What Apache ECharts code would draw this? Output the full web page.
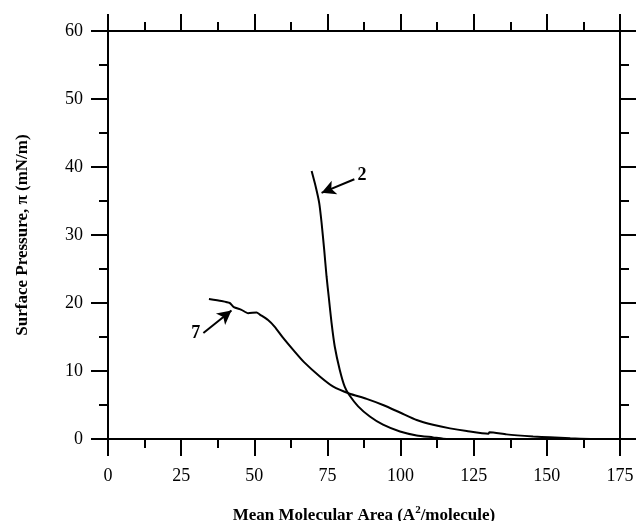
<!DOCTYPE html>
<html>
<head>
<meta charset="utf-8">
<script src="https://cdn.jsdelivr.net/npm/echarts@6/dist/echarts.min.js"></script>
<style>
html, body { margin: 0; padding: 0; background: #fff; }
#chart { width: 636px; height: 521px; }
</style>
</head>
<body>
<div id="chart"></div>
<script>
// isotherm 7 (area, pressure)
const curve7 = [
    [34.5, 20.6], [38.8, 20.3], [41.6, 20.0], [43.0, 19.4], [45.6, 19.0],
    [47.9, 18.5], [50.8, 18.6], [51.9, 18.3], [54.7, 17.5], [57.0, 16.5],
    [59.8, 14.9], [63.3, 13.1], [67.0, 11.3], [72.4, 9.2], [77.0, 7.7],
    [82.4, 6.7], [88.4, 5.9], [94.0, 5.0], [99.8, 3.9], [105.5, 2.8],
    [111.1, 2.1], [116.9, 1.56], [122.6, 1.17], [130.0, 0.78], [130.4, 1.0],
    [136.2, 0.68], [145.3, 0.38], [151.0, 0.25], [158.0, 0.1], [165.0, 0.0]
];

// isotherm 2
const curve2 = [
    [69.6, 39.4], [71.0, 37.1], [72.2, 34.7], [73.0, 31.8], [73.9, 27.8],
    [74.7, 23.9], [75.5, 20.7], [76.4, 17.1], [77.5, 13.6], [79.2, 10.2],
    [80.9, 7.7], [82.4, 6.5], [85.5, 4.8], [89.5, 3.3], [94.0, 2.1],
    [99.8, 1.1], [105.5, 0.53], [111.1, 0.24], [114.5, 0.05], [118.0, 0.0]
];

// trace lying on the baseline near zero area
const baseline = [[0, 0], [9, 0]];

// labels and arrows: label position, arrow tail, arrow tip
const label2 = { text: '2', pos: [86.8, 38.8], tail: [84.2, 38.2], tip: [73.0, 36.2] };
const label7 = { text: '7', pos: [30.0, 15.6], tail: [32.6, 15.6], tip: [42.2, 18.9] };

const xTicks = { min: 0, max: 175, interval: 25 };
const yTicks = { min: 0, max: 60, interval: 10 };

const font = 'Liberation Serif, Times New Roman, serif';
const black = '#000';

const myChart = echarts.init(document.getElementById('chart'));

// fresh objects for every axis (frame + ticks on all four sides)
const makeAxis = (extra) => Object.assign({
    type: 'value',
    axisLine: { show: true, onZero: false, lineStyle: { color: black, width: 2 } },
    axisTick: { show: true, length: 17, lineStyle: { color: black, width: 2 } },
    minorTick: { show: true, splitNumber: 2, length: 9, lineStyle: { color: black, width: 2 } },
    splitLine: { show: false }
}, extra);

const arrowLine = (a) => ({
    type: 'line',
    data: [],
    silent: true,
    markLine: {
        symbol: ['none', 'arrow'],
        symbolSize: [11, 14],
        lineStyle: { color: black, width: 2, type: 'solid' },
        label: { show: false },
        data: [[{ coord: a.tail }, { coord: a.tip }]]
    },
    markPoint: {
        symbol: 'circle',
        symbolSize: 1,
        itemStyle: { color: 'transparent' },
        label: {
            show: true,
            position: 'inside',
            formatter: a.text,
            color: black,
            fontFamily: font,
            fontWeight: 'bold',
            fontSize: 18
        },
        data: [{ coord: a.pos }]
    }
});

const options = {
    animation: false,
    grid: {
        left: 108, right: 16, top: 31, bottom: 82,
        outerBoundsMode: 'none', containLabel: false
    },
    xAxis: [
        makeAxis({
            position: 'bottom',
            min: xTicks.min, max: xTicks.max, interval: xTicks.interval,
            name: 'Mean Molecular Area (A{sup|2}/molecule)',
            nameLocation: 'middle',
            nameGap: 66,
            nameTextStyle: {
                fontFamily: font, fontWeight: 'bold', fontSize: 17, color: black,
                rich: { sup: { fontFamily: font, fontWeight: 'bold', fontSize: 11, verticalAlign: 'top', padding: [0, 0, 10, 0] } }
            },
            axisLabel: { margin: 28, fontFamily: font, fontSize: 18, color: black }
        }),
        makeAxis({
            position: 'top',
            min: xTicks.min, max: xTicks.max, interval: xTicks.interval,
            axisLabel: { show: false }
        })
    ],
    yAxis: [
        makeAxis({
            position: 'left',
            min: yTicks.min, max: yTicks.max, interval: yTicks.interval,
            name: 'Surface Pressure, π (mN/m)',
            nameLocation: 'middle',
            nameGap: 77,
            nameTextStyle: { fontFamily: font, fontWeight: 'bold', fontSize: 17, color: black },
            axisLabel: { margin: 25, fontFamily: font, fontSize: 18, color: black }
        }),
        makeAxis({
            position: 'right',
            min: yTicks.min, max: yTicks.max, interval: yTicks.interval,
            axisLabel: { show: false }
        })
    ],
    series: [
        {
            type: 'line', data: curve7, showSymbol: false, smooth: 0.2,
            lineStyle: { color: black, width: 2 }
        },
        {
            type: 'line', data: curve2, showSymbol: false, smooth: 0.2,
            lineStyle: { color: black, width: 2 }
        },
        {
            type: 'line', data: baseline, showSymbol: false,
            lineStyle: { color: black, width: 2 }
        },
        arrowLine(label2),
        arrowLine(label7)
    ]
};

myChart.setOption(options);
</script>
</body>
</html>
